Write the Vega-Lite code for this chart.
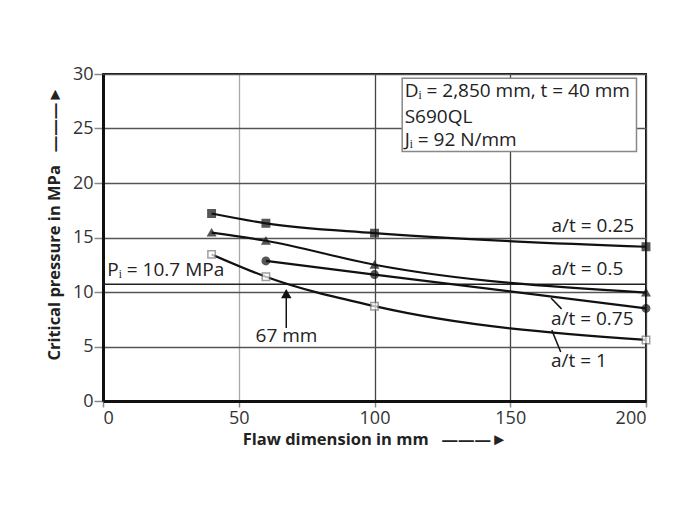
{
  "$schema": "https://vega.github.io/schema/vega-lite/v6.json",
  "autosize": {"type": "none"},
  "padding": {"left": 103, "top": 74, "right": 35, "bottom": 107},
  "width": 543,
  "height": 327,
  "background": "white",
  "config": {
    "font": "Open Sans",
    "view": {"stroke": "#111", "strokeWidth": 2},
    "axis": {
      "labelFont": "Open Sans",
      "titleFont": "Open Sans",
      "labelFontSize": 18,
      "labelColor": "#333",
      "titleFontSize": 16.5,
      "titleFontWeight": "bold",
      "titleColor": "#222",
      "domainColor": "#111",
      "domainWidth": 3,
      "tickColor": "#888",
      "tickWidth": 1.5,
      "gridWidth": 1.3
    }
  },
  "datasets": {
    "curves": [
      {"series": "a/t = 0.25", "x": 40, "y": 17.2},
      {"series": "a/t = 0.25", "x": 60, "y": 16.3},
      {"series": "a/t = 0.25", "x": 100, "y": 15.4},
      {"series": "a/t = 0.25", "x": 200, "y": 14.15},
      {"series": "a/t = 0.5", "x": 40, "y": 15.45},
      {"series": "a/t = 0.5", "x": 60, "y": 14.7},
      {"series": "a/t = 0.5", "x": 100, "y": 12.5},
      {"series": "a/t = 0.5", "x": 200, "y": 9.95},
      {"series": "a/t = 0.75", "x": 60, "y": 12.85},
      {"series": "a/t = 0.75", "x": 100, "y": 11.6},
      {"series": "a/t = 0.75", "x": 200, "y": 8.5},
      {"series": "a/t = 1", "x": 40, "y": 13.45},
      {"series": "a/t = 1", "x": 60, "y": 11.4},
      {"series": "a/t = 1", "x": 100, "y": 8.7},
      {"series": "a/t = 1", "x": 200, "y": 5.6}
    ],
    "seriesLabels": [
      {"label": "a/t = 0.25", "x": 165.2, "y": 16.1},
      {"label": "a/t = 0.5", "x": 165.2, "y": 12.1},
      {"label": "a/t = 0.75", "x": 165.0, "y": 7.5},
      {"label": "a/t = 1", "x": 165.0, "y": 3.7}
    ],
    "leaders": [
      {"x": 168.9, "y": 8.45, "x2": 165.0, "y2": 9.45},
      {"x": 168.6, "y": 4.5, "x2": 165.3, "y2": 6.5},
      {"x": 67.5, "y": 6.7, "x2": 67.5, "y2": 9.6}
    ],
    "notes": [
      {"text": "Pᵢ = 10.7 MPa", "x": 1.6, "y": 12.0},
      {"text": "Dᵢ = 2,850 mm, t = 40 mm", "x": 111.1, "y": 28.4},
      {"text": "S690QL", "x": 111.1, "y": 26.1},
      {"text": "Jᵢ = 92 N/mm", "x": 111.1, "y": 23.9}
    ],
    "box": [{"x": 110.2, "x2": 196.5, "y": 29.6, "y2": 22.9}]
  },
  "layer": [
    {
      "data": {"name": "box"},
      "mark": {"type": "rect", "fill": "white", "stroke": "#888", "strokeWidth": 1.5},
      "encoding": {
        "x": {"field": "x", "type": "quantitative", "scale": {"domain": [0, 200]}, "axis": {
          "values": [0, 50, 100, 150, 200],
          "title": "Flaw dimension in mm\u00a0\u00a0\u00a0———►",
          "tickSize": 6, "labelPadding": 2, "titlePadding": 4,
          "gridColor": {"condition": {"test": "datum.value == 50", "value": "#a8a8a8"}, "value": "#444"}
        }},
        "x2": {"field": "x2"},
        "y": {"field": "y", "type": "quantitative", "scale": {"domain": [0, 30]}, "axis": {
          "values": [0, 5, 10, 15, 20, 25, 30],
          "title": "Critical pressure in MPa\u00a0\u00a0\u00a0———►",
          "tickSize": 9, "labelPadding": 1, "titlePadding": 10,
          "titleY": 149,
          "gridColor": "#555"
        }},
        "y2": {"field": "y2"}
      }
    },
    {
      "data": {"name": "notes"},
      "mark": {"type": "text", "align": "left", "baseline": "middle", "fontSize": 19, "color": "#222"},
      "encoding": {
        "x": {"field": "x", "type": "quantitative"},
        "y": {"field": "y", "type": "quantitative"},
        "text": {"field": "text"}
      }
    },
    {
      "data": {"values": [{"p": 10.7}]},
      "mark": {"type": "rule", "color": "#222", "strokeWidth": 1.5},
      "encoding": {"y": {"field": "p", "type": "quantitative"}}
    },
    {
      "data": {"name": "curves"},
      "mark": {"type": "line", "interpolate": "monotone", "color": "#111", "strokeWidth": 2.2},
      "encoding": {
        "x": {"field": "x", "type": "quantitative"},
        "y": {"field": "y", "type": "quantitative"},
        "detail": {"field": "series"}
      }
    },
    {
      "data": {"name": "curves"},
      "mark": {"type": "point", "filled": true, "size": 55, "strokeWidth": 1.5},
      "encoding": {
        "x": {"field": "x", "type": "quantitative"},
        "y": {"field": "y", "type": "quantitative"},
        "shape": {"field": "series", "type": "nominal", "legend": null, "scale": {
          "domain": ["a/t = 0.25", "a/t = 0.5", "a/t = 0.75", "a/t = 1"],
          "range": ["square", "triangle-up", "circle", "square"]}},
        "fill": {"field": "series", "type": "nominal", "legend": null, "scale": {
          "domain": ["a/t = 0.25", "a/t = 0.5", "a/t = 0.75", "a/t = 1"],
          "range": ["#111", "#111", "#111", "white"]}},
        "stroke": {"field": "series", "type": "nominal", "legend": null, "scale": {
          "domain": ["a/t = 0.25", "a/t = 0.5", "a/t = 0.75", "a/t = 1"],
          "range": ["#111", "#111", "#111", "#777"]}}
      }
    },
    {
      "data": {"name": "leaders"},
      "mark": {"type": "rule", "color": "#111", "strokeWidth": 1.5},
      "encoding": {
        "x": {"field": "x", "type": "quantitative"},
        "y": {"field": "y", "type": "quantitative"},
        "x2": {"field": "x2"},
        "y2": {"field": "y2"}
      }
    },
    {
      "data": {"values": [{"x": 67.5, "y": 9.85}]},
      "mark": {"type": "point", "shape": "triangle-up", "filled": true, "color": "#111", "size": 110, "opacity": 1},
      "encoding": {
        "x": {"field": "x", "type": "quantitative"},
        "y": {"field": "y", "type": "quantitative"}
      }
    },
    {
      "data": {"values": [{"text": "67 mm", "x": 67.6, "y": 6.0}]},
      "mark": {"type": "text", "align": "center", "baseline": "middle", "fontSize": 19, "color": "#222"},
      "encoding": {
        "x": {"field": "x", "type": "quantitative"},
        "y": {"field": "y", "type": "quantitative"},
        "text": {"field": "text"}
      }
    },
    {
      "data": {"name": "seriesLabels"},
      "mark": {"type": "text", "align": "left", "baseline": "middle", "fontSize": 19, "color": "#222"},
      "encoding": {
        "x": {"field": "x", "type": "quantitative"},
        "y": {"field": "y", "type": "quantitative"},
        "text": {"field": "label"}
      }
    }
  ]
}
